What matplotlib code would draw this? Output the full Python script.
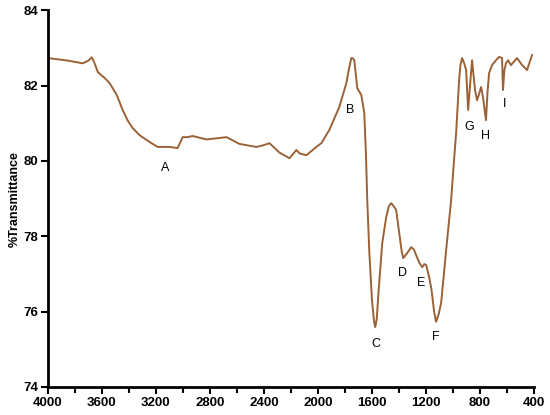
import numpy as np
import matplotlib
matplotlib.use('Agg')
from matplotlib import pyplot as plt

# wavenumber (cm-1) and %T
wavenumber = [4000, 3850, 3741, 3700, 3675, 3655, 3630, 3600, 3579, 3542,
              3490, 3446, 3410, 3372, 3320, 3246, 3187, 3098, 3039, 3002,
              2965, 2928, 2825, 2677, 2581, 2455, 2400, 2359, 2285, 2211,
              2160, 2137, 2086, 2012, 1975, 1916, 1842, 1790, 1770, 1753,
              1740, 1731, 1720, 1709, 1679, 1657, 1645, 1635, 1620, 1600,
              1585, 1576, 1565, 1550, 1535, 1524, 1495, 1475, 1458, 1440,
              1421, 1398, 1380, 1369, 1340, 1310, 1290, 1273, 1250, 1228,
              1212, 1199, 1177, 1160, 1140, 1125, 1105, 1088, 1070, 1051,
              1014, 995, 977, 965, 955, 945, 933, 918, 903, 888,
              872, 859, 837, 822, 805, 792, 778, 756, 745, 733,
              711, 682, 659, 637, 630, 620, 608, 593, 571, 545,
              526, 490, 452, 415]
transmittance = [82.73, 82.66, 82.59, 82.66, 82.75, 82.60, 82.36, 82.26, 82.20, 82.06,
                 81.75, 81.35, 81.08, 80.87, 80.68, 80.50, 80.37, 80.37, 80.34, 80.63,
                 80.63, 80.66, 80.57, 80.63, 80.45, 80.37, 80.42, 80.47, 80.22, 80.07,
                 80.29, 80.20, 80.15, 80.37, 80.47, 80.82, 81.43, 82.06, 82.45, 82.73,
                 82.72, 82.67, 82.30, 81.93, 81.75, 81.27, 80.20, 78.96, 77.60, 76.30,
                 75.75, 75.59, 75.80, 76.60, 77.30, 77.82, 78.50, 78.80, 78.88, 78.80,
                 78.70, 78.08, 77.60, 77.42, 77.55, 77.71, 77.65, 77.50, 77.30, 77.18,
                 77.26, 77.24, 76.92, 76.60, 76.00, 75.73, 75.95, 76.23, 76.90, 77.63,
                 78.96, 79.90, 80.74, 81.50, 82.14, 82.55, 82.73, 82.60, 82.41, 81.35,
                 82.10, 82.67, 81.88, 81.61, 81.80, 81.96, 81.69, 81.08, 81.80, 82.33,
                 82.54, 82.67, 82.76, 82.73, 81.88, 82.40, 82.59, 82.67, 82.54, 82.65,
                 82.73, 82.55, 82.41, 82.81]

peak_labels = ['A', 'B', 'C', 'D', 'E', 'F', 'G', 'H', 'I']
label_x = [3128, 1761, 1568, 1376, 1236, 1125, 881, 756, 622]
label_y = [79.81, 81.35, 75.14, 77.02, 76.76, 75.33, 80.90, 80.66, 81.50]

fig = plt.figure(figsize=(5.5, 4.15), dpi=100)
ax = fig.add_axes([0.087, 0.0675, 0.884, 0.908])

ax.plot(wavenumber, transmittance, color='#9a6236', lw=1.4)

for lab, lx, ly in zip(peak_labels, label_x, label_y):
    ax.text(lx, ly, lab, ha='center', va='center', fontsize=9, family='Liberation Sans')

ax.set_xlim(4000, 400)
ax.set_ylim(74, 84)
ax.set_xticks(np.arange(4000, 399, -400))
ax.set_xticks(np.arange(3800, 400, -400), minor=True)
ax.set_yticks([74, 76, 78, 80, 82, 84])
ax.set_ylabel('%Transmittance', fontsize=9, fontweight='bold', family='Liberation Sans', labelpad=2)

for s in ['top', 'right']:
    ax.spines[s].set_visible(False)
for s in ['left', 'bottom']:
    ax.spines[s].set_linewidth(2)
ax.tick_params(which='major', width=1.5, length=5, labelsize=9.5, pad=2)
ax.tick_params(which='minor', width=1.5, length=4)
for t in ax.get_xticklabels() + ax.get_yticklabels():
    t.set_fontweight('bold')
    t.set_family('Liberation Sans')

fig.savefig('out.png', dpi=100)
